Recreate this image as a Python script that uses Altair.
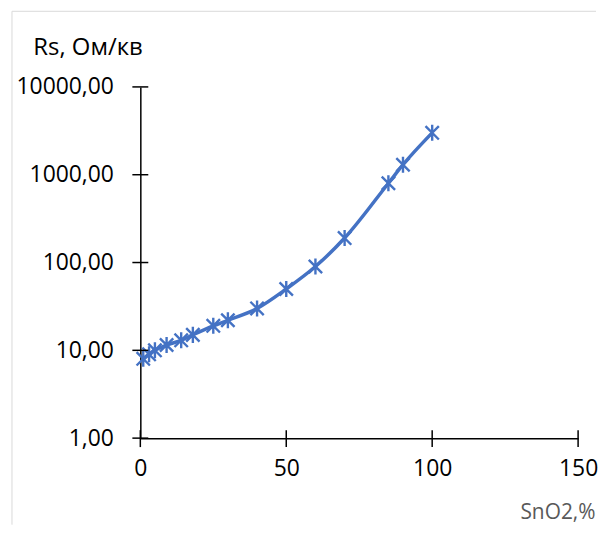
import altair as alt
import pandas as pd

# Data
sno2 = [1, 3, 5, 9, 14, 18, 25, 30, 40, 50, 60, 70, 85, 90, 100]
rs = [8, 9, 10, 11.5, 13, 15, 19, 22, 30, 50, 90, 190, 800, 1300, 3000]
x_ticks = [0, 50, 100, 150]
y_ticks = [1, 10, 100, 1000, 10000]

df = pd.DataFrame({"x": sno2, "y": rs})
xt = pd.DataFrame({"v": x_ticks})
yt = pd.DataFrame({"v": y_ticks})

W, H = 440, 353
BLUE = "#4472C4"
FONT = "Open Sans"

xscale = alt.Scale(domain=[0, 150], nice=False)
yscale = alt.Scale(type="log", domain=[1, 10000], nice=False)

xaxis = alt.Axis(
    values=x_ticks, ticks=False, tickSize=0, grid=False, labelFlush=False,
    domainColor="black", domainWidth=1.5,
    labelFont=FONT, labelFontSize=23, labelColor="black", labelPadding=20,
    title="SnO2,%", titleFont=FONT, titleFontSize=21, titleFontWeight="normal",
    titleColor="#595959", titleX=457, titleY=75, titleAlign="right",
    titleBaseline="middle", titleAnchor="end",
)
yaxis = alt.Axis(
    values=y_ticks, ticks=False, tickSize=0, grid=False, labelFlush=False,
    domainColor="black", domainWidth=1.5,
    labelFont=FONT, labelFontSize=23, labelColor="black", labelPadding=27,
    labelExpr="replace(format(datum.value, '.2f'), '.', ',')",
    title="Rs, Ом/кв", titleFont=FONT, titleFontSize=24, titleFontWeight="normal",
    titleColor="black", titleAngle=0, titleX=-108, titleY=-40,
    titleAlign="left", titleBaseline="middle",
)

line = alt.Chart(df).mark_line(
    color=BLUE, strokeWidth=3.5, interpolate="monotone"
).encode(
    x=alt.X("x:Q", scale=xscale, axis=xaxis),
    y=alt.Y("y:Q", scale=yscale, axis=yaxis),
)

star = "M-1,-1L1,1M-1,1L1,-1M0,-1.2L0,1.2"
points = alt.Chart(df).mark_point(
    shape=star, size=180, color=BLUE, strokeWidth=2.4, filled=False, opacity=1
).encode(
    x=alt.X("x:Q", scale=xscale),
    y=alt.Y("y:Q", scale=yscale),
)

xticks = alt.Chart(xt).mark_rule(color="black", strokeWidth=1.5).encode(
    x=alt.X("v:Q", scale=xscale),
    y=alt.value(H - 8),
    y2=alt.value(H + 9),
)
yticks = alt.Chart(yt).mark_rule(color="black", strokeWidth=1.5).encode(
    y=alt.Y("v:Q", scale=yscale),
    x=alt.value(-8),
    x2=alt.value(8),
)

border_df = pd.DataFrame({"k": [0]})
border_left = alt.Chart(border_df).mark_rule(color="#d9d9d9", strokeWidth=1).encode(
    x=alt.value(-129), y=alt.value(-76), y2=alt.value(440)
)
border_top = alt.Chart(border_df).mark_rule(color="#d9d9d9", strokeWidth=1).encode(
    x=alt.value(-129), x2=alt.value(458), y=alt.value(-76)
)

chart = alt.layer(
    border_left, border_top, line, points, xticks, yticks
).properties(
    width=W, height=H,
    padding={"left": 3, "top": 1, "right": 0, "bottom": 0},
).configure_view(stroke=None)

chart.save("out.html", embed_options={"renderer": "svg", "actions": False})
